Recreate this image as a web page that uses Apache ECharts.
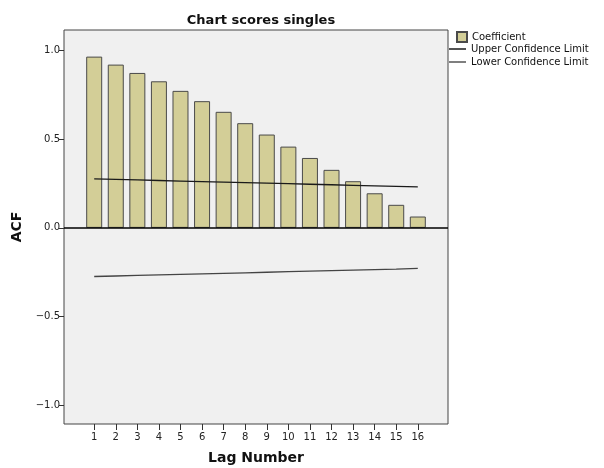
<!DOCTYPE html>
<html>
<head>
<meta charset="utf-8">
<script src="https://cdn.jsdelivr.net/npm/echarts@6/dist/echarts.min.js"></script>
<style>html,body{margin:0;padding:0;background:#fff;}#c{width:604px;height:468px;}</style>
</head>
<body>
<div id="c"></div>
<script>
var lags = [1,2,3,4,5,6,7,8,9,10,11,12,13,14,15,16];
var coefficient = [0.965,0.920,0.873,0.826,0.772,0.714,0.654,0.590,0.526,0.458,0.394,0.327,0.263,0.195,0.130,0.064];
var upperLimit = [0.276,0.273,0.270,0.267,0.264,0.261,0.258,0.255,0.252,0.249,0.246,0.243,0.240,0.237,0.234,0.231];
var lowerLimit = [-0.274,-0.271,-0.268,-0.265,-0.262,-0.259,-0.256,-0.253,-0.250,-0.247,-0.244,-0.241,-0.238,-0.235,-0.232,-0.228];
var yTicks = [-1, -0.5, 0, 0.5, 1];

function pairs(vals){ return lags.map(function(l,i){ return [l, vals[i]]; }); }

var FONT = 'DejaVu Sans';
var LINE_ICON = 'path://M0,0L34,0L34,3L0,3Z';
var chart = echarts.init(document.getElementById('c'), null, {renderer:'canvas'});
chart.setOption({
  animation: false,
  backgroundColor: '#ffffff',
  title: {
    text: 'Chart scores singles',
    left: 256, top: 9, textAlign: 'center',
    textStyle: {fontFamily: FONT, fontSize: 13, fontWeight: 'bold', color: '#111'}
  },
  legend: [{
    data: [{name: 'Coefficient', icon: 'rect'}],
    orient: 'vertical', left: 456, top: 31, padding: 0,
    itemWidth: 10, itemHeight: 10, itemGap: 2,
    textStyle: {fontFamily: FONT, fontSize: 10, color: '#111'}
  },{
    data: [{name: 'Upper Confidence Limit', icon: LINE_ICON},
           {name: 'Lower Confidence Limit', icon: LINE_ICON}],
    orient: 'vertical', left: 449, top: 44, padding: 0,
    itemWidth: 17, itemHeight: 10, itemGap: 3,
    textStyle: {fontFamily: FONT, fontSize: 10, color: '#111'}
  }],
  grid: {
    left: 64, right: 156, top: 30, bottom: 44,
    outerBoundsMode: 'none', containLabel: false,
    show: true, backgroundColor: '#f0f0f0', borderColor: '#444', borderWidth: 1
  },
  xAxis: {
    type: 'value', min: -0.4, max: 17.4,
    name: 'Lag Number', nameLocation: 'middle', nameGap: 27,
    nameTextStyle: {fontFamily: FONT, fontSize: 14, fontWeight: 'bold', color: '#111'},
    axisLine: {show: false, onZero: false},
    splitLine: {show: false},
    axisTick: {show: true, length: 6, customValues: lags, lineStyle: {color: '#333'}},
    axisLabel: {customValues: lags, margin: 8, fontFamily: FONT, fontSize: 10, color: '#222'}
  },
  yAxis: {
    type: 'value', min: -1.105, max: 1.115,
    name: 'ACF', nameLocation: 'middle', nameGap: 33,
    nameTextStyle: {fontFamily: FONT, fontSize: 14, fontWeight: 'bold', color: '#111'},
    axisLine: {show: false, onZero: false},
    splitLine: {show: false},
    axisTick: {show: true, length: 5, customValues: yTicks, lineStyle: {color: '#333'}},
    axisLabel: {customValues: yTicks, margin: 4, fontFamily: FONT, fontSize: 10, color: '#222',
      formatter: function(v){ return (v < 0 ? '\u2212' : '') + Math.abs(v).toFixed(1); }}
  },
  series: [{
    name: 'Coefficient', type: 'bar', barWidth: 16,
    data: pairs(coefficient),
    itemStyle: {color: '#d3ce97', borderColor: '#4a4a4a', borderWidth: 1},
    markLine: {
      silent: true, symbol: 'none', label: {show: false},
      lineStyle: {color: '#000', width: 1.5, type: 'solid'},
      data: [{yAxis: 0}]
    },
    z: 2
  },{
    name: 'Upper Confidence Limit', type: 'line', symbol: 'none',
    data: pairs(upperLimit),
    lineStyle: {color: '#1a1a1a', width: 1.3},
    itemStyle: {color: '#1a1a1a'},
    z: 3
  },{
    name: 'Lower Confidence Limit', type: 'line', symbol: 'none',
    data: pairs(lowerLimit),
    lineStyle: {color: '#444', width: 1.3},
    itemStyle: {color: '#555'},
    z: 3
  }]
});
</script>
</body>
</html>
